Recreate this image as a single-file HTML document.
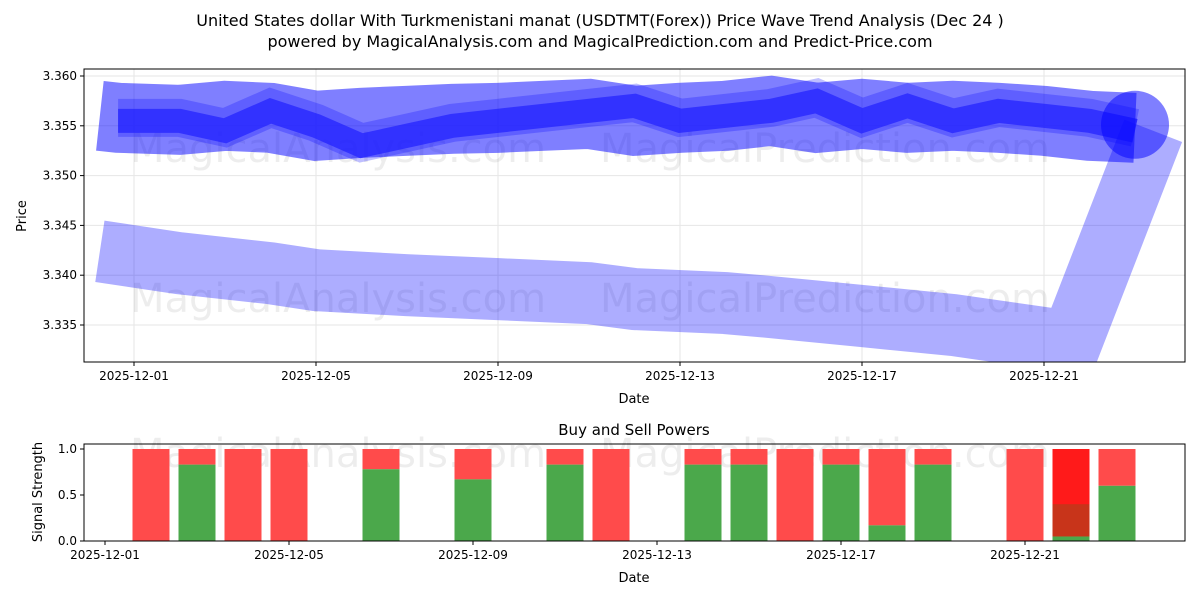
<!DOCTYPE html>
<html><head><meta charset="utf-8"><style>
body{margin:0;background:#fff;font-family:"Liberation Sans","DejaVu Sans",sans-serif}
svg text{font-family:"DejaVu Sans","Liberation Sans",sans-serif}
</style></head><body>
<svg id="c" width="1200" height="600" viewBox="0 0 1200 600">
<text x="600" y="26" text-anchor="middle" font-size="16">United States dollar With Turkmenistani manat (USDTMT(Forex)) Price Wave Trend Analysis (Dec 24 )</text>
<text x="600" y="47" text-anchor="middle" font-size="16">powered by MagicalAnalysis.com and MagicalPrediction.com and Predict-Price.com</text>
<g id="top"></g>
<g id="bot"></g>
</svg>
<script>
const NS="http://www.w3.org/2000/svg";
const dayOffsets=[-0.75,-0.35,1,2,3,4,5,6,7,8,9,10,11,12,13,14,15,16,17,18,19,20,21,22];
const coreLine=[3.3555,3.3555,3.3545,3.3565,3.3550,3.3530,3.3540,3.3550,3.3555,3.3560,3.3565,3.3570,3.3555,3.3560,3.3565,3.3575,3.3555,3.3570,3.3555,3.3565,3.3560,3.3555,3.3545,3.3540];
const wideBand=[3.3560,3.3558,3.3556,3.3560,3.3558,3.3550,3.3553,3.3555,3.3557,3.3558,3.3560,3.3562,3.3555,3.3558,3.3560,3.3565,3.3558,3.3562,3.3558,3.3560,3.3558,3.3555,3.3550,3.3548];
const lowerDays=[-0.75,1,3,4,6,8,10,11,13,14,16,18,20.6,22.4];
const lowerBand=[3.3424,3.3412,3.3402,3.3395,3.3390,3.3386,3.3382,3.3376,3.3372,3.3368,3.3359,3.3350,3.3333,3.3545];
const yTicks=[3.335,3.340,3.345,3.350,3.355,3.360];
const xTickLabels=["2025-12-01","2025-12-05","2025-12-09","2025-12-13","2025-12-17","2025-12-21"];
const xTickDays=[0,4,8,12,16,20];
const barDays=[1,2,3,4,6,8,10,11,13,14,15,16,17,18,20,21,22];
const buyVals=[0,0.83,0,0,0.78,0.67,0.83,0,0.83,0.83,0,0.83,0.17,0.83,0,0.05,0.6];
const sellVals=[1,0.17,1,1,0.22,0.33,0.17,1,0.17,0.17,1,0.17,0.83,0.17,1,0.95,0.4];
const sigTicks=[0,0.5,1.0];

function el(t,a,p){const e=document.createElementNS(NS,t);for(const k in a)e.setAttribute(k,a[k]);p.appendChild(e);return e;}
const topG=document.getElementById('top'),bot=document.getElementById('bot');
const X=d=>134+45.5*d, Y=p=>76+(3.360-p)*9960;
const L=84,R=1185,T=69,B=362;
yTicks.forEach(v=>{const y=Y(v);
 const g=el('line',{x1:L,x2:R,y1:y,y2:y,stroke:'#e6e6e6'},topG);
 el('line',{x1:L-4,x2:L,y1:y,y2:y,stroke:'#000'},topG);
 const t=el('text',{x:L-7,y:y+4,'text-anchor':'end','font-size':12},topG);t.textContent=v.toFixed(3);});
xTickDays.forEach((d,i)=>{const x=X(d);
 const g=el('line',{x1:x,x2:x,y1:T,y2:B,stroke:'#e6e6e6'},topG);
 el('line',{x1:x,x2:x,y1:B,y2:B+4,stroke:'#000'},topG);
 const t=el('text',{x:x,y:B+18,'text-anchor':'middle','font-size':12},topG);t.textContent=xTickLabels[i];});
[[130,150],[600,150],[130,300],[600,300]].forEach((p,i)=>{const t=el('text',{x:p[0],y:p[1]+12,'font-size':40,fill:'#000','fill-opacity':0.07},topG);t.textContent=i%2?'MagicalPrediction.com':'MagicalAnalysis.com';});
const clip=el('clipPath',{id:'cp'},topG);el('rect',{x:L,y:T,width:R-L,height:B-T},clip);
const g=el('g',{'clip-path':'url(#cp)'},topG);
function pl(days,vals,w,col,op,nm){const pts=days.map((d,i)=>X(d)+','+Y(vals[i])).join(' ');
 const p=el('polyline',{points:pts,fill:'none',stroke:col,'stroke-width':w,'stroke-opacity':op,'stroke-linejoin':'miter','stroke-linecap':'butt'},g);}
pl(lowerDays,lowerBand,62,'#0000ff',0.32,'lower-wave-band');
pl(dayOffsets,wideBand,70,'#0000ff',0.5,'upper-wave-band');
pl(dayOffsets.slice(1),coreLine.map(v=>v+0.0003),38,'#0000ff',0.25,'mid-wave-band');
pl(dayOffsets.slice(1),coreLine,24,'#2020ff',0.7,'core-wave-line');
const ci=el('circle',{cx:X(22),cy:Y(3.3551),r:34,fill:'#0000ff','fill-opacity':0.5},g);
el('rect',{x:L,y:T,width:R-L,height:B-T,fill:'none',stroke:'#000'},topG);
let t=el('text',{x:634,y:403,'text-anchor':'middle','font-size':13},topG);t.textContent='Date';
t=el('text',{x:26,y:216,'text-anchor':'middle','font-size':13,transform:'rotate(-90 26 216)'},topG);t.textContent='Price';
const bL=84,bR=1185,bT=444,bB=541;
const BX=d=>105+46*d, BY=v=>541-92*v;
function BB(v){return BY(0)-BY(v);}
[[130,455],[600,455]].forEach((p,i)=>{const t=el('text',{x:p[0],y:p[1]+12,'font-size':40,fill:'#000','fill-opacity':0.07},bot);t.textContent=i?'MagicalPrediction.com':'MagicalAnalysis.com';});
barDays.forEach((d,i)=>{const x=BX(d)-18.5;
 const s=el('rect',{x:x,y:BY(buyVals[i]+sellVals[i]),width:37,height:BY(buyVals[i])-BY(buyVals[i]+sellVals[i]),fill:d===21?'#ff1a1a':'#ff4b4b'},bot);
 if(buyVals[i]>0){const b=el('rect',{x:x,y:BY(buyVals[i]),width:37,height:BB(buyVals[i]),fill:'#4ba84b'},bot);}
 if(d===21){const dk=el('rect',{x:x,y:BY(0.4),width:37,height:BY(0.05)-BY(0.4),fill:'#c8341a'},bot);}
});
sigTicks.forEach(v=>{const y=BY(v);el('line',{x1:bL-4,x2:bL,y1:y,y2:y,stroke:'#000'},bot);
 const t=el('text',{x:bL-7,y:y+4,'text-anchor':'end','font-size':12},bot);t.textContent=v.toFixed(1);});
xTickDays.forEach((d,i)=>{const x=BX(d);el('line',{x1:x,x2:x,y1:bB,y2:bB+4,stroke:'#000'},bot);
 const t=el('text',{x:x,y:bB+18,'text-anchor':'middle','font-size':12},bot);t.textContent=xTickLabels[i];});
el('rect',{x:bL,y:bT,width:bR-bL,height:bB-bT,fill:'none',stroke:'#000'},bot);
t=el('text',{x:634,y:435,'text-anchor':'middle','font-size':15},bot);t.textContent='Buy and Sell Powers';
t=el('text',{x:634,y:582,'text-anchor':'middle','font-size':13},bot);t.textContent='Date';
t=el('text',{x:42,y:492,'text-anchor':'middle','font-size':13,transform:'rotate(-90 42 492)'},bot);t.textContent='Signal Strength';
</script>
</body></html>
